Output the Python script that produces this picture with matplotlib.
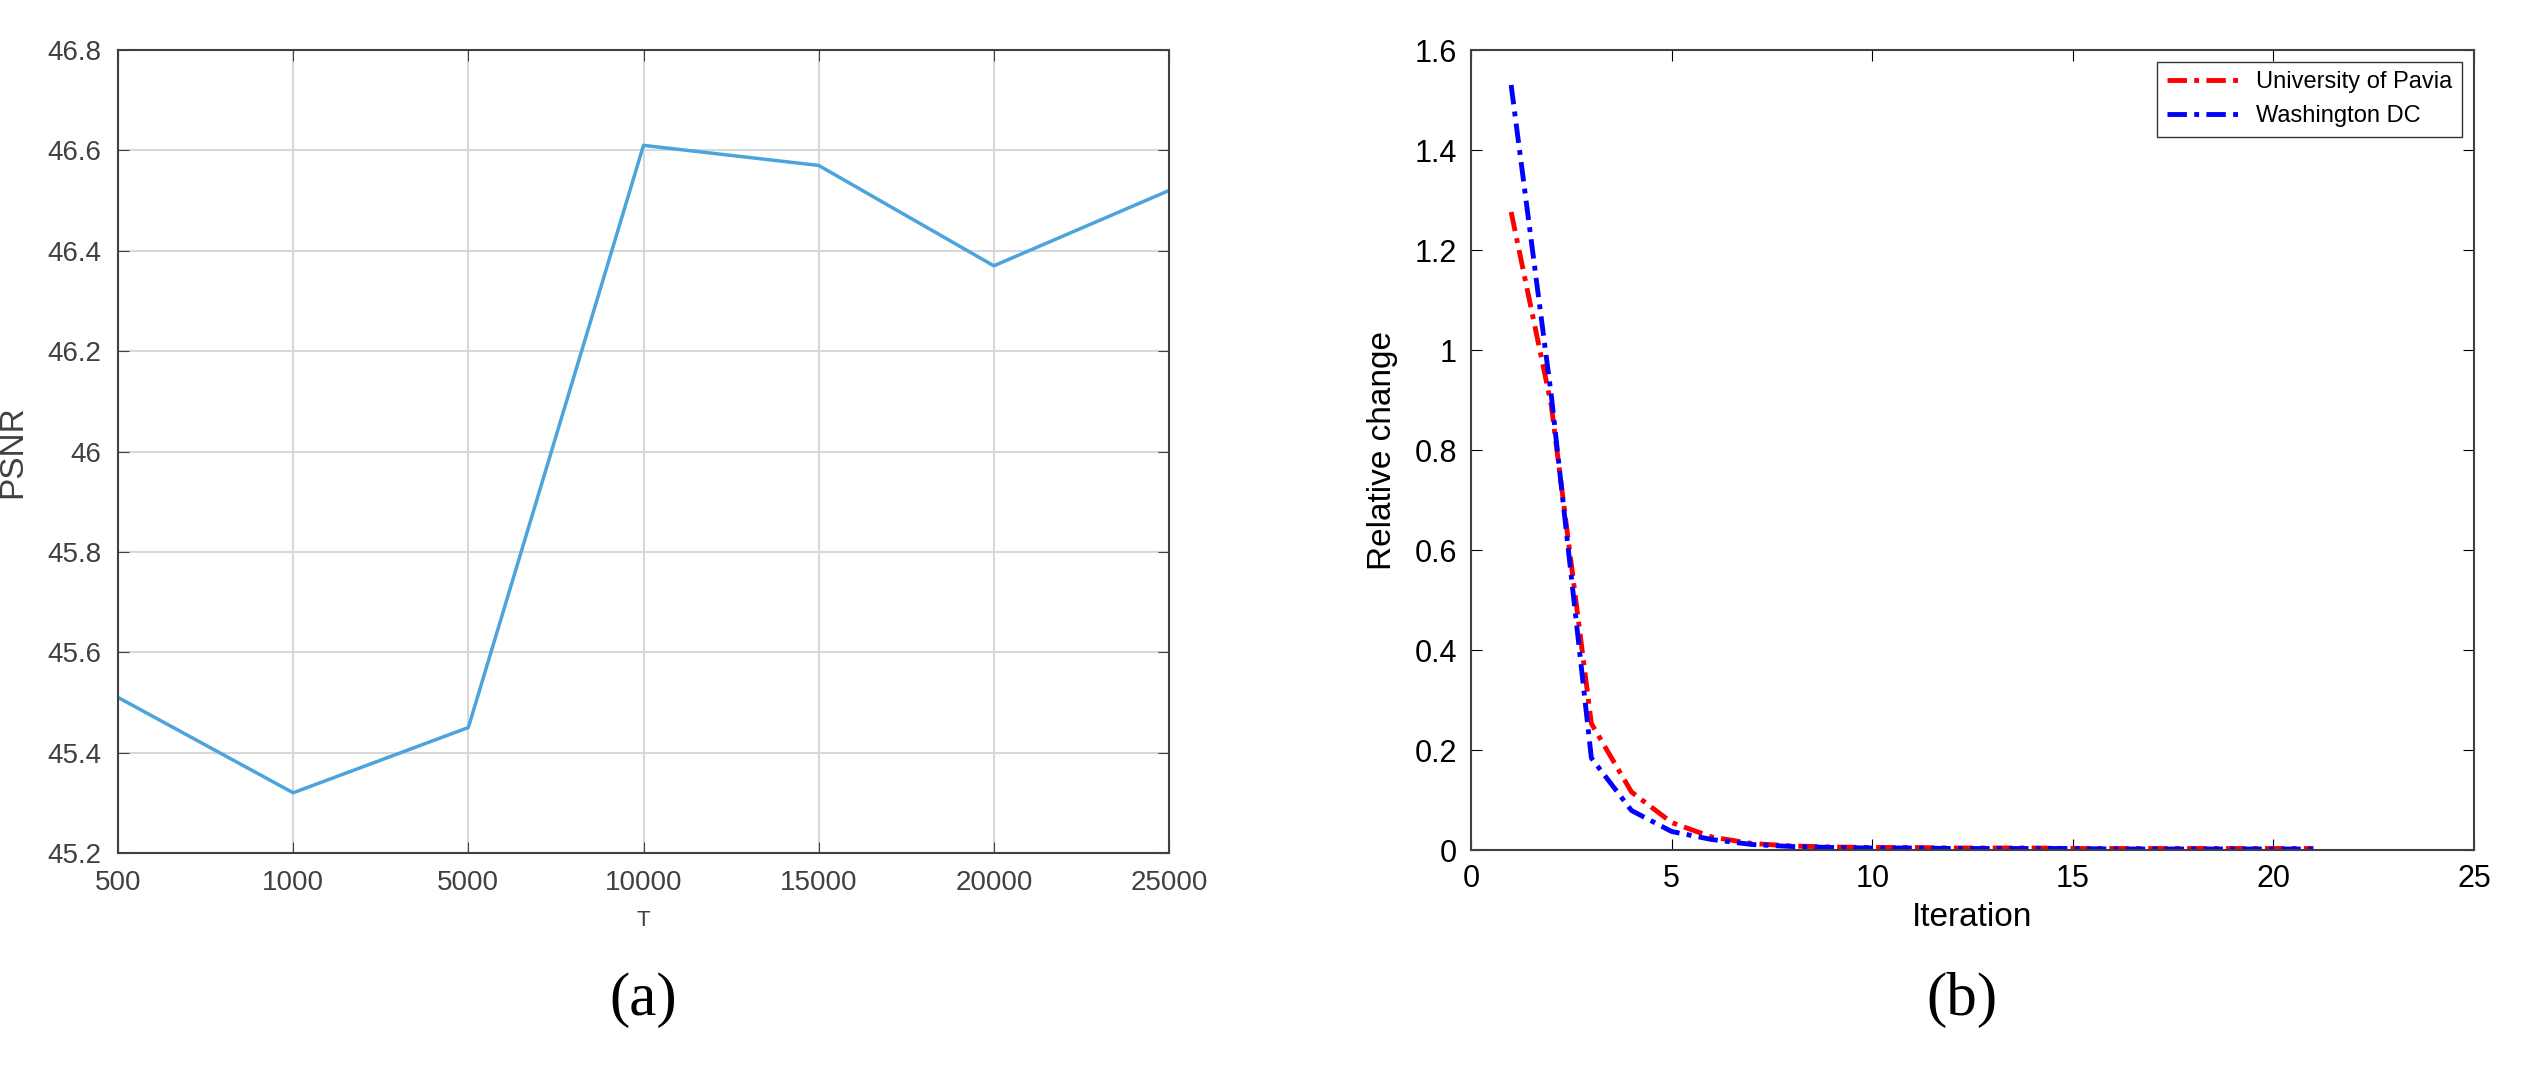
import matplotlib
matplotlib.use("Agg")
import matplotlib.pyplot as plt
import numpy as np

T_labels = ["500", "1000", "5000", "10000", "15000", "20000", "25000"]
psnr = [45.51, 45.32, 45.45, 46.61, 46.57, 46.37, 46.52]

iters = list(range(1, 22))
pavia = [1.276, 0.89, 0.253, 0.116, 0.055, 0.026, 0.013, 0.008, 0.006, 0.005, 0.005,
         0.004, 0.004, 0.004, 0.003, 0.003, 0.003, 0.003, 0.003, 0.003, 0.003]
dc = [1.53, 0.91, 0.184, 0.079, 0.037, 0.021, 0.011, 0.007, 0.005, 0.004, 0.004,
      0.003, 0.003, 0.003, 0.003, 0.002, 0.002, 0.002, 0.002, 0.002, 0.002]

plt.rcParams['font.family'] = ['Liberation Sans', 'DejaVu Sans']
fig = plt.figure(figsize=(25.32, 10.71), dpi=100)

ax1 = fig.add_axes([118/2532, 1-853/1071, (1169-118)/2532, (853-50)/1071])
x = np.arange(len(psnr))
ax1.plot(x, psnr, color='#4DA3DB', lw=2.5)
ax1.set_xlim(0, len(psnr)-1)
ax1.set_ylim(45.2, 46.8)
ax1.set_xticks(x)
ax1.set_xticklabels(T_labels)
yt = np.round(np.arange(45.2, 46.81, 0.2), 1)
ax1.set_yticks(yt)
ax1.set_yticklabels([f"{v:g}" for v in yt])
ax1.grid(True, color='#d8d8d8', lw=1.5)
ax1.set_xlabel("T", fontsize=16, color='#404040', labelpad=10)
ax1.set_ylabel("PSNR", fontsize=24, color='#404040', labelpad=14)
ax1.tick_params(labelsize=20, colors='#404040', direction='in', length=8, top=True, right=True, pad=12)
for s in ax1.spines.values():
    s.set_color('#404040'); s.set_linewidth(1.5)

ax2 = fig.add_axes([1471/2532, 1-850/1071, (2474-1471)/2532, (850-50)/1071])
ax2.plot(iters, pavia, color='red', ls=(0, (4, 1.5, 1, 1.5)), lw=3.5, label='University of Pavia')
ax2.plot(iters, dc, color='blue', ls=(0, (4, 1.5, 1, 1.5)), lw=3.5, label='Washington DC')
ax2.set_xlim(0, 25)
ax2.set_ylim(0, 1.6)
ax2.set_xticks([0, 5, 10, 15, 20, 25])
yt2 = np.round(np.arange(0, 1.61, 0.2), 1)
ax2.set_yticks(yt2)
ax2.set_yticklabels([f"{v:g}" for v in yt2])
ax2.set_xlabel("Iteration", fontsize=24, labelpad=6)
ax2.set_ylabel("Relative change", fontsize=24, labelpad=12)
ax2.tick_params(labelsize=22, direction='in', length=8, top=True, right=True, pad=10)
for s in ax2.spines.values():
    s.set_color('#404040'); s.set_linewidth(1.5)
ax2.legend(loc='upper right', fontsize=17, fancybox=False, edgecolor='black', handlelength=3)

fig.text(643/2532, 1-1000/1071, "(a)", fontsize=44, family='Liberation Serif', ha='center', va='center')
fig.text(1962/2532, 1-1000/1071, "(b)", fontsize=44, family='Liberation Serif', ha='center', va='center')

fig.savefig("out.png", dpi=100, facecolor='white')
